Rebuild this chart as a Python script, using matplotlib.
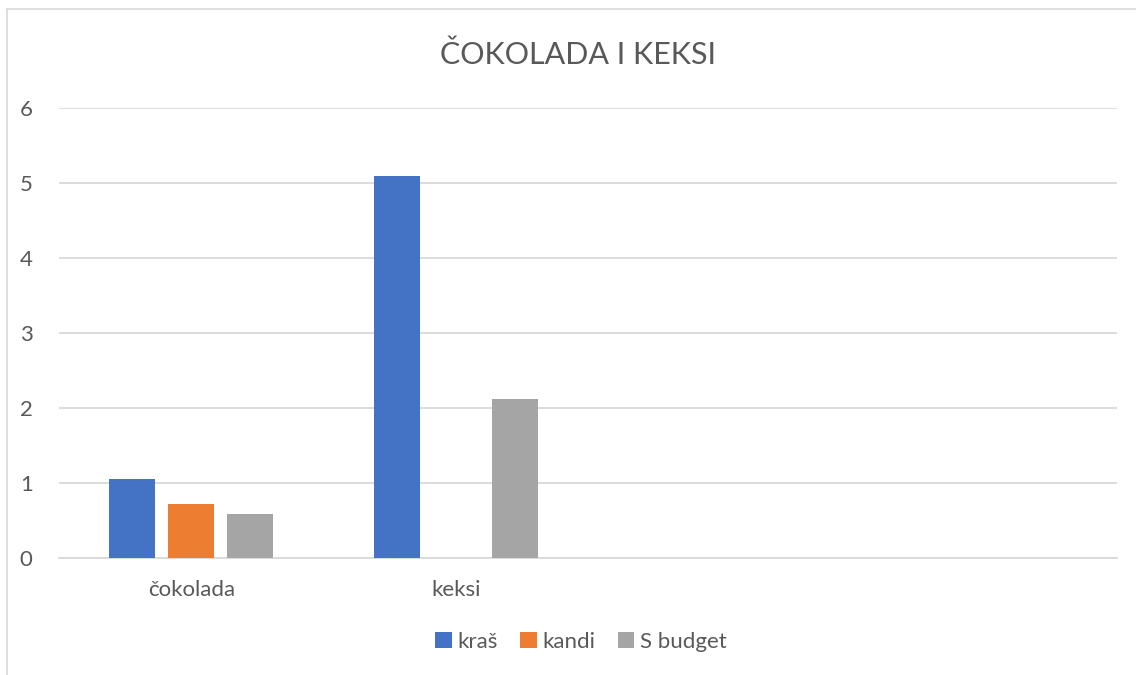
import numpy as np
import matplotlib.pyplot as plt
from matplotlib.lines import Line2D

plt.rcParams['font.family'] = ['Lato', 'DejaVu Sans']

# Data
categories = ["čokolada", "keksi", "", ""]
series_names = ["kraš", "kandi", "S budget"]
kras = [1.05, 5.09, np.nan, np.nan]
kandi = [0.72, np.nan, np.nan, np.nan]
s_budget = [0.59, 2.12, np.nan, np.nan]
colors = ['#4472C4', '#ED7D31', '#A5A5A5']

text_color = '#595959'
grid_color = '#D9D9D9'

fig = plt.figure(figsize=(11.36, 6.75), dpi=100)
ax = fig.add_axes([59 / 1136, 1 - 558 / 675, (1117 - 59) / 1136, (558 - 108) / 675])

x = np.arange(len(categories))
bar_w = 46 / 264.5
step = 59 / 264.5
for i, (vals, name) in enumerate(zip([kras, kandi, s_budget], series_names)):
    ax.bar(x + (i - 1) * step, vals, width=bar_w, color=colors[i], label=name, zorder=3)

ax.set_xlim(-0.5, len(categories) - 0.5)
ax.set_ylim(0, 6)
ax.set_yticks(range(0, 7))
ax.set_xticks(x)
ax.set_xticklabels(categories)
ax.yaxis.grid(True, color=grid_color, linewidth=1.3, zorder=0)
ax.tick_params(axis='both', length=0, labelsize=16, colors=text_color)
ax.tick_params(axis='y', pad=19)
ax.tick_params(axis='x', pad=16)
for sp in ['top', 'right', 'left']:
    ax.spines[sp].set_visible(False)
ax.spines['bottom'].set_color(grid_color)
ax.spines['bottom'].set_linewidth(1.3)

fig.text(578 / 1136, 1 - 55 / 675, "ČOKOLADA I KEKSI", ha='center', va='center',
         fontsize=22, color=text_color)

leg = fig.legend(loc='center', bbox_to_anchor=(581 / 1136, 1 - 642 / 675), ncol=3,
                 frameon=False, fontsize=16, handlelength=0.75, handleheight=0.75,
                 handletextpad=0.25, columnspacing=1.0)
for t in leg.get_texts():
    t.set_color(text_color)

# chart border
fig.add_artist(Line2D([7 / 1136, 7 / 1136], [0, 1 - 9 / 675], color='#D9D9D9', linewidth=1.2))
fig.add_artist(Line2D([7 / 1136, 1], [1 - 9 / 675, 1 - 9 / 675], color='#D9D9D9', linewidth=1.2))

fig.savefig('out.png', dpi=100)
